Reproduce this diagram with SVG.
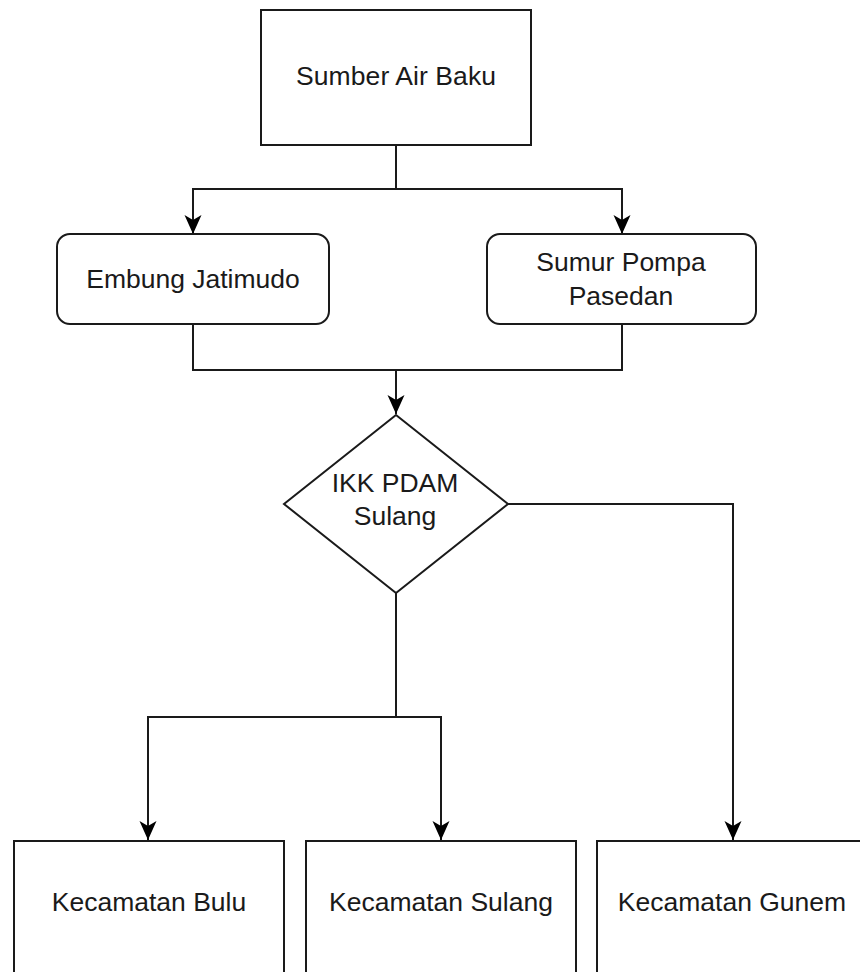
<svg xmlns="http://www.w3.org/2000/svg" width="860" height="972" viewBox="0 0 860 972">
  <style>
    .box { fill: #ffffff; stroke: #1a1a1a; stroke-width: 2; }
    .lbl { font-family: "Liberation Sans", Arial, sans-serif; font-size: 26.5px; fill: #1a1a1a; text-anchor: middle; }
    .edge { fill: none; stroke: #1a1a1a; stroke-width: 2; marker-end: url(#arrow); }
    .plain { fill: none; stroke: #1a1a1a; stroke-width: 2; }
  </style>
  <defs>
    <marker id="arrow" markerUnits="userSpaceOnUse" markerWidth="20" markerHeight="20" viewBox="0 0 20 20" refX="19" refY="10" orient="auto">
      <path d="M0,1.5 L19,10 L0,18.5 L5,10 Z" fill="#000000"/>
    </marker>
  </defs>
  <rect width="860" height="972" fill="#ffffff"/>

  <g id="connectors">
    <path class="edge" d="M396,145 V189 H193 V234"/>
    <path class="edge" d="M396,145 V189 H622 V234"/>
    <path class="edge" d="M193,324 V370 H396 V414"/>
    <path class="plain" d="M622,324 V370 H396"/>
    <path class="edge" d="M396,593 V717 H148 V840"/>
    <path class="edge" d="M396,593 V717 H441 V840"/>
    <path class="edge" d="M508,504 H733 V840"/>
  </g>

  <g id="sumber">
    <rect class="box" x="261" y="10" width="270" height="135"/>
    <text class="lbl" x="396" y="85" textLength="200">Sumber Air Baku</text>
  </g>
  <g id="embung">
    <rect class="box" x="57" y="234" width="272" height="90" rx="13" ry="13"/>
    <text class="lbl" x="193" y="288">Embung Jatimudo</text>
  </g>
  <g id="sumur">
    <rect class="box" x="487" y="234" width="269" height="90" rx="13" ry="13"/>
    <text class="lbl" x="621" y="271">Sumur Pompa</text>
    <text class="lbl" x="621" y="305">Pasedan</text>
  </g>
  <g id="ikk">
    <polygon class="box" points="396,415 508,504 396,593 284,504"/>
    <text class="lbl" x="395" y="492">IKK PDAM</text>
    <text class="lbl" x="395" y="525">Sulang</text>
  </g>
  <g id="bulu">
    <rect class="box" x="14" y="841" width="270" height="150"/>
    <text class="lbl" x="149" y="911">Kecamatan Bulu</text>
  </g>
  <g id="sulang">
    <rect class="box" x="306" y="841" width="270" height="150"/>
    <text class="lbl" x="441" y="911">Kecamatan Sulang</text>
  </g>
  <g id="gunem">
    <rect class="box" x="597" y="841" width="270" height="150"/>
    <text class="lbl" x="732" y="911">Kecamatan Gunem</text>
  </g>
</svg>
